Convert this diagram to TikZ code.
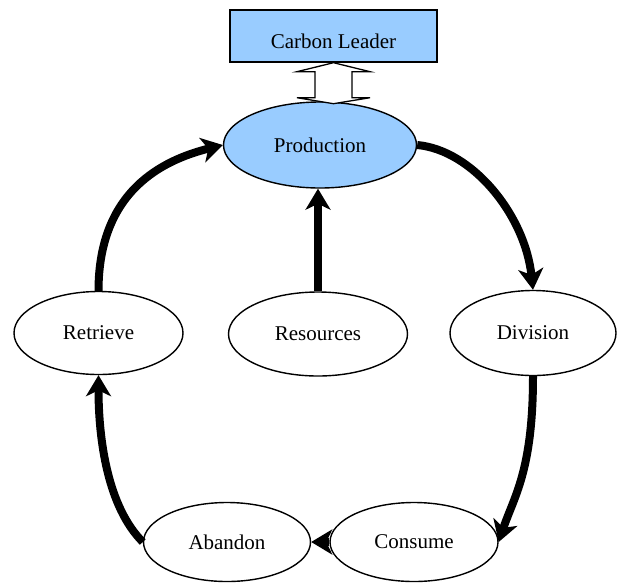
\documentclass[tikz,border=0pt]{standalone}
\usepackage{fontspec}
\setmainfont{Liberation Serif}
\usetikzlibrary{shapes.geometric,arrows.meta}
\definecolor{lblue}{RGB}{153,204,255}
\tikzset{
  lbl/.style={font=\fontsize{21}{25}\selectfont},
  ell/.style={ellipse,draw,line width=1.4pt,inner sep=0pt,lbl},
  flow/.style={line width=8pt,-{Stealth[length=21pt,width=25pt,inset=6pt]}},
  dblarrow/.style={line width=1.3pt,fill=white}
}
\begin{document}
\begin{tikzpicture}[x=1pt,y=-1pt]
\useasboundingbox (0,0) rectangle (618,587);
\node[draw,fill=lblue,line width=1.4pt,minimum width=207pt,minimum height=52pt,inner sep=0pt,text height=24pt,text depth=0pt,lbl] (cl) at (333.5,36) {Carbon Leader};
\node[ell,fill=lblue,minimum width=193pt,minimum height=86pt] (prod) at (320,145) {Production};
\node[ell,minimum width=169pt,minimum height=83pt] (ret) at (98.5,333) {Retrieve};
\node[ell,minimum width=179pt,minimum height=84pt] (res) at (318,334) {Resources};
\node[ell,minimum width=166pt,minimum height=85pt] (div) at (533,333) {Division};
\node[ell,minimum width=167pt,minimum height=79pt] (ab) at (227,542) {Abandon};
\node[ell,minimum width=168pt,minimum height=79pt] (con) at (414,542) {Consume};

\draw[dblarrow,shift={(cl.south)}] (0,0) -- (36.5,9) -- (18.5,9) -- (18.5,35) -- (36.5,35) -- (0,41)
  -- (-36.5,35) -- (-18.5,35) -- (-18.5,9) -- (-36.5,9) -- cycle;

\draw[flow] (ret.north) .. controls +(0,-100) and +(-60,15) .. (prod.west);
\draw[flow] (res.north) -- (res.north |- prod.south);
\draw[flow] (prod.east) .. controls +(55,5) and +(-8,-75) .. (div.north);
\draw[flow] (div.south) .. controls +(0,95) and +(15,-45) .. (con.east);
\draw[flow] (con.west) -- (ab.east);
\draw[flow] (ab.west) .. controls +(-35,-35) and +(0,65) .. (ret.south);
\end{tikzpicture}
\end{document}
